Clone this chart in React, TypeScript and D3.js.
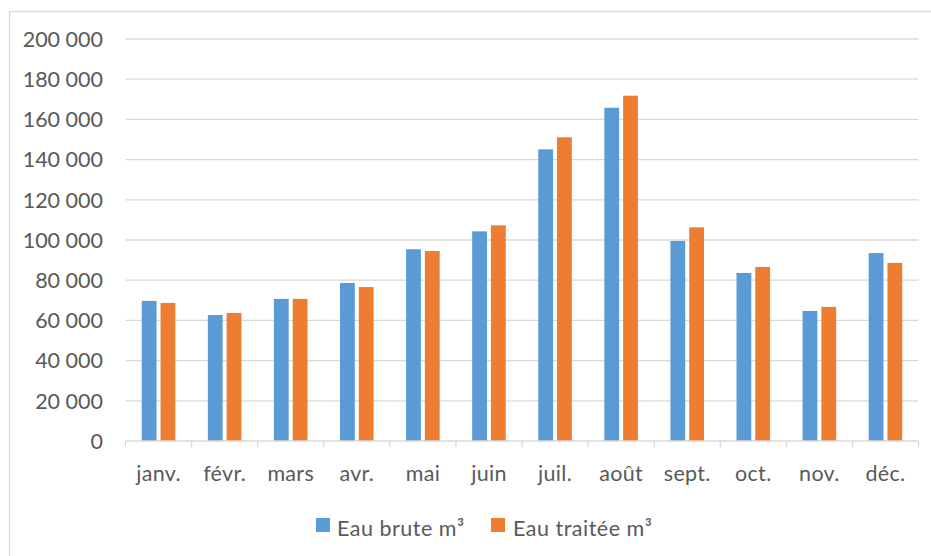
import React from "react";
import * as d3 from "d3";

const months = ["janv.", "févr.", "mars", "avr.", "mai", "juin", "juil.", "août", "sept.", "oct.", "nov.", "déc."];
const seriesNames = ["Eau brute m³", "Eau traitée m³"];
const eauBrute = [69700, 62700, 70700, 78600, 95400, 104300, 145100, 165800, 99500, 83600, 64700, 93500];
const eauTraitee = [68700, 63700, 70700, 76600, 94500, 107300, 151100, 171800, 106300, 86600, 66700, 88600];
const yTicks = [0, 20000, 40000, 60000, 80000, 100000, 120000, 140000, 160000, 180000, 200000];
const colors = ["#5B9BD5", "#ED7D31"];

const W = 931;
const H = 556;
const plot = { left: 125.5, right: 918.5, top: 39, bottom: 441 };
const FONT = "Lato, 'Open Sans', sans-serif";
const TEXT = "#595959";
const GRID = "#D9D9D9";

const locale = d3.formatLocale({ decimal: ",", thousands: "\u00a0", grouping: [3], currency: ["", "€"] });
const fmt = locale.format(",d");

export default function App() {
  const x = d3.scaleBand<string>().domain(months).range([plot.left, plot.right]).paddingInner(0).paddingOuter(0);
  const y = d3.scaleLinear().domain([0, 200000]).range([plot.bottom, plot.top]);
  const groupW = 33.6;
  const inner = d3.scaleBand<number>().domain([0, 1]).range([-groupW / 2, groupW / 2]).paddingInner(0.213).paddingOuter(0);
  const series = [eauBrute, eauTraitee];

  const legendItems = [
    { x: 316, tx: 337 },
    { x: 491, tx: 513 },
  ];

  return (
    <svg width={W} height={H} style={{ position: "absolute", left: 0, top: 0, background: "#fff" }} fontFamily={FONT}>
      <rect x={0} y={0} width={W} height={H} fill="#fff" />
      <rect x={9.5} y={11.5} width={940} height={600} fill="none" stroke={GRID} strokeWidth={1.3} />
      {yTicks.map((t) => (
        <g key={t}>
          {t > 0 && <line x1={plot.left} x2={plot.right} y1={y(t)} y2={y(t)} stroke={GRID} strokeWidth={1.3} />}
          <text x={103} y={y(t)} dy="0.36em" textAnchor="end" fontSize={21.5} fill={TEXT}>
            {t === 0 ? "0" : fmt(t)}
          </text>
        </g>
      ))}
      {series.map((vals, si) =>
        vals.map((v, i) => (
          <rect
            key={si + "-" + i}
            x={(x(months[i]) as number) + x.bandwidth() / 2 + (inner(si) as number)}
            y={y(v)}
            width={inner.bandwidth()}
            height={y(0) - y(v)}
            fill={colors[si]}
          />
        ))
      )}
      <line x1={plot.left} x2={plot.right} y1={plot.bottom} y2={plot.bottom} stroke={GRID} strokeWidth={1.3} />
      {[...months.map((m) => x(m) as number), plot.right].map((px, i) => (
        <line key={i} x1={px} x2={px} y1={plot.bottom} y2={plot.bottom + 6.5} stroke={GRID} strokeWidth={1.3} />
      ))}
      {months.map((m) => (
        <text key={m} x={(x(m) as number) + x.bandwidth() / 2} y={481} textAnchor="middle" fontSize={21.5} letterSpacing={0.3} fill={TEXT}>
          {m}
        </text>
      ))}
      {seriesNames.map((name, i) => (
        <g key={name}>
          <rect x={legendItems[i].x} y={518} width={14} height={14} fill={colors[i]} />
          <text x={legendItems[i].tx} y={536} fontSize={21.5} letterSpacing={0.5} fill={TEXT}>
            {name}
          </text>
        </g>
      ))}
    </svg>
  );
}
